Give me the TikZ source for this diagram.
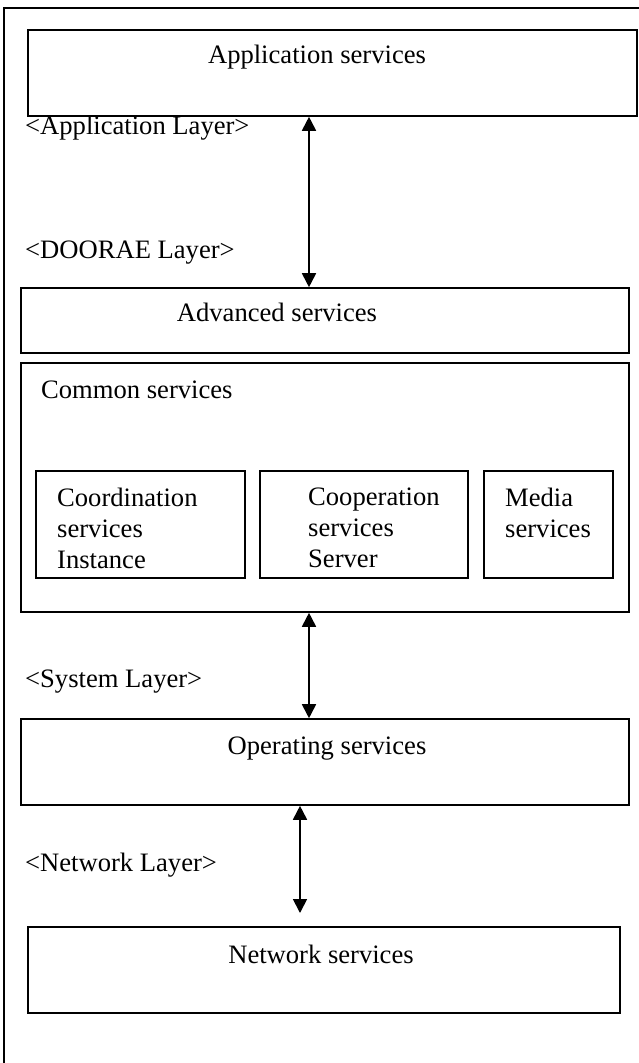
\documentclass[tikz,border=0pt]{standalone}
\usepackage{fontspec}
\setmainfont{Liberation Serif}
\usetikzlibrary{arrows.meta}
\tikzset{
  box/.style={draw, line width=1.6pt, rectangle, inner sep=0pt},
  txt/.style={inner sep=0pt},
  multi/.style={inner sep=0pt, align=left, anchor=north west},
  link/.style={line width=1.8pt, {Triangle[length=14pt,width=14pt]}-{Triangle[length=14pt,width=14pt]}},
  frameline/.style={line width=1.8pt}
}
\begin{document}
\begin{tikzpicture}[x=1pt, y=-1pt, font=\fontsize{26.6}{31}\selectfont]
\useasboundingbox (0,0) rectangle (639,1063);
% outer frame (open to the right and bottom)
\draw[frameline] (4,1063) -- (4,8) -- (639,8);

% application layer
\node[box, minimum width=609, minimum height=86] (app) at (332.5,73) {};
\node[txt, anchor=base] (apptext) at (317,63) {Application services};
\node[txt, anchor=base west] (applayer) at (25,134) {<Application Layer>};

% DOORAE layer
\node[txt, anchor=base west] (doorae) at (25,258) {<DOORAE Layer>};
\node[box, minimum width=608, minimum height=65] (adv) at (325,320.5) {};
\node[txt, anchor=base] (advtext) at (277,321) {Advanced services};

\node[box, minimum width=608, minimum height=249] (common) at (325,487.5) {};
\node[txt, anchor=base west] (commontext) at (41,398) {Common services};

\node[box, minimum width=209, minimum height=107] (coord) at (140.5,524.5) {};
\node[multi] (coordtext) at (57,488) {Coordination\\services\\Instance};
\node[box, minimum width=208, minimum height=107] (coop) at (364,524.5) {};
\node[multi] (cooptext) at (308,488) {Cooperation\\services\\Server};
\node[box, minimum width=129, minimum height=107] (media) at (548.5,524.5) {};
\node[multi] (mediatext) at (505,488) {Media\\services};

% system layer
\node[txt, anchor=base west] (syslayer) at (25,687) {<System Layer>};
\node[box, minimum width=608, minimum height=86] (op) at (325,762) {};
\node[txt, anchor=base] (optext) at (327,754) {Operating services};

% network layer
\node[txt, anchor=base west] (netlayer) at (25,871) {<Network Layer>};
\node[box, minimum width=592, minimum height=86] (net) at (324,970) {};
\node[txt, anchor=base] (nettext) at (321,963) {Network services};

% connectors
\coordinate (ax1) at (309,0);
\coordinate (ax2) at (300,0);
\coordinate (netend) at (300,913);
\draw[link] (ax1 |- app.south) -- (ax1 |- adv.north);
\draw[link] (ax1 |- common.south) -- (ax1 |- op.north);
\draw[link] (ax2 |- op.south) -- (netend);
\end{tikzpicture}
\end{document}
